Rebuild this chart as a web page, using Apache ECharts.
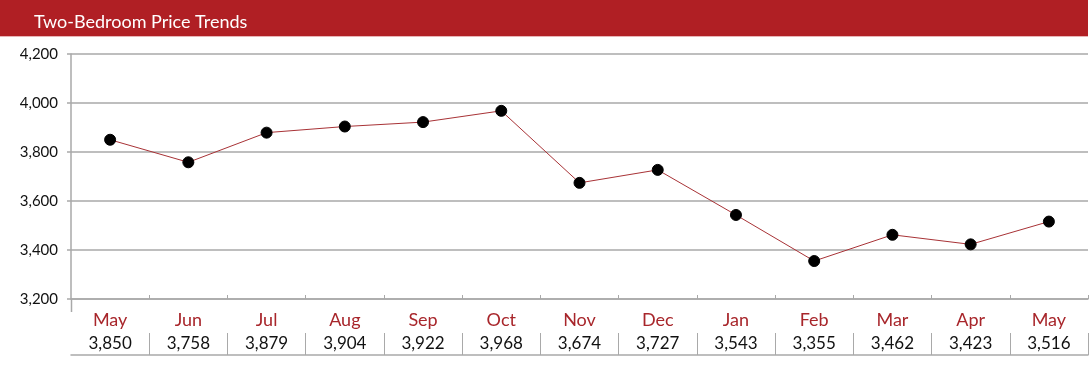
<!DOCTYPE html>
<html><head><meta charset="utf-8">
<script src="https://cdn.jsdelivr.net/npm/echarts@6/dist/echarts.min.js"></script>
<style>html,body{margin:0;padding:0;background:#fff}#c{width:1090px;height:371px}</style>
</head><body><div id="c"></div>
<script>
const title = 'Two-Bedroom Price Trends';
const months = ['May','Jun','Jul','Aug','Sep','Oct','Nov','Dec','Jan','Feb','Mar','Apr','May'];
const prices = [3850, 3758, 3879, 3904, 3922, 3968, 3674, 3727, 3543, 3355, 3462, 3423, 3516];
const yMin = 3200, yMax = 4200, yStep = 200;

const fmt = v => String(v).replace(/\B(?=(\d{3})+(?!\d))/g, ',');
const FONT = 'Lato, "Open Sans", sans-serif';
const GRAY = '#a9a9a9';
const RED = '#b01f24';
const notFirst = i => i !== 0;
const chart = echarts.init(document.getElementById('c'), null, {renderer: 'canvas'});
chart.setOption({
  animation: false,
  backgroundColor: '#fff',
  textStyle: {fontFamily: FONT},
  title: {text: title, left: 29, top: 8, textStyle: {color: '#fff', fontSize: 18, fontWeight: 'normal', fontFamily: FONT}},
  graphic: [
    {type: 'rect', z: -1, shape: {x: 0, y: 0, width: 1088, height: 36}, style: {fill: RED}},
    {type: 'rect', z: -1, shape: {x: 0, y: 36, width: 1088, height: 1}, style: {fill: '#e8b4b6'}},
    {type: 'line', shape: {x1: 71.5, y1: 299, x2: 71.5, y2: 312}, style: {stroke: GRAY, lineWidth: 1.5}}
  ],
  grid: [
    {left: 71, right: 2, top: 54, bottom: 72},
    {left: 71, right: 2, top: 333, height: 22}
  ],
  xAxis: [
    {type: 'category', gridIndex: 0, data: months, boundaryGap: true,
     axisLine: {lineStyle: {color: GRAY, width: 1.5}},
     axisTick: {show: true, inside: true, length: 4, interval: notFirst, lineStyle: {color: GRAY}},
     axisLabel: {show: false}, splitLine: {show: false}},
    {type: 'category', gridIndex: 1, position: 'top', data: months, boundaryGap: true,
     axisLine: {show: true, lineStyle: {color: GRAY, width: 1.5}},
     axisTick: {show: true, inside: false, length: 21, interval: notFirst, lineStyle: {color: GRAY, width: 1}},
     axisLabel: {color: '#a8262b', fontSize: 18, margin: 4, fontFamily: FONT},
     splitLine: {show: false}},
    {type: 'category', gridIndex: 1, position: 'bottom', data: prices.map(fmt), boundaryGap: true,
     axisLine: {show: false}, axisTick: {show: false},
     axisLabel: {inside: true, color: '#111', fontSize: 17, margin: 3, fontFamily: FONT},
     splitLine: {show: true, interval: notFirst, lineStyle: {color: GRAY, width: 1}}}
  ],
  yAxis: [
    {type: 'value', gridIndex: 0, min: yMin, max: yMax, interval: yStep,
     axisLine: {show: true, lineStyle: {color: GRAY, width: 1.5}},
     axisTick: {show: true, length: 4, lineStyle: {color: GRAY, width: 1.5}},
     axisLabel: {color: '#111', fontSize: 15, margin: 13, formatter: v => fmt(v), fontFamily: FONT},
     splitLine: {show: true, lineStyle: {color: GRAY, width: 1.5}}},
    {type: 'value', gridIndex: 1, show: false, min: 0, max: 1}
  ],
  series: [{
    type: 'line', xAxisIndex: 0, yAxisIndex: 0, data: prices,
    symbol: 'circle', symbolSize: 11,
    lineStyle: {color: '#a83236', width: 1},
    itemStyle: {color: '#000', borderColor: '#000'}
  }]
});
</script></body></html>
